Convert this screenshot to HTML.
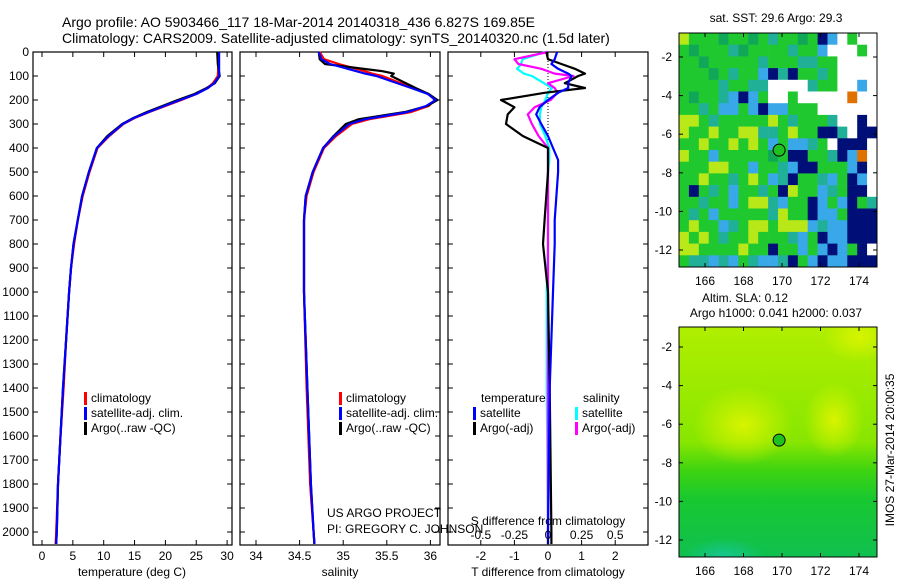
<!DOCTYPE html>
<html><head><meta charset="utf-8"><style>
body{margin:0;background:#fff}
svg{display:block;font-family:"Liberation Sans",sans-serif}
text{font-size:12px;fill:#000}
</style></head><body>
<svg id="c" width="900" height="580" viewBox="0 0 900 580">
<defs>
<linearGradient id="slaBase" x1="0" y1="0" x2="0" y2="1">
<stop offset="0" stop-color="#b0ee00"/><stop offset="0.3" stop-color="#98ea00"/><stop offset="0.5" stop-color="#88e600"/><stop offset="0.62" stop-color="#40d410"/><stop offset="0.75" stop-color="#18c830"/><stop offset="1" stop-color="#10c050"/></linearGradient>
<radialGradient id="blobY"><stop offset="0" stop-color="#d8f400"/><stop offset="1" stop-color="#d8f400" stop-opacity="0"/></radialGradient>
<radialGradient id="blobT"><stop offset="0" stop-color="#18c8a0"/><stop offset="1" stop-color="#18c8a0" stop-opacity="0"/></radialGradient>
<clipPath id="slaClip"><rect x="679" y="327" width="198" height="230"/></clipPath>
</defs>
<text x="62" y="27" style="font-size:14px">Argo profile: AO 5903466_117 18-Mar-2014 20140318_436 6.827S 169.85E</text>
<text x="62" y="43" style="font-size:14px">Climatology: CARS2009. Satellite-adjusted climatology: synTS_20140320.nc (1.5d later)</text>
<g id="g"></g>
</svg>
<script>
// ---- data ----
const depthT = [0,50,100,130,150,175,200,225,250,275,300,350,400,500,600,700,800,900,1000,1200,1400,1600,1800,2000,2050];
const tempArgo = [28.4,28.5,28.8,28.0,26.7,24.7,22.0,19.5,17.0,14.8,13.0,10.6,8.9,7.6,6.5,5.8,5.1,4.7,4.4,3.9,3.4,3.0,2.6,2.4,2.3];
const tempClim = [28.6,28.6,28.5,27.7,26.8,25.0,22.6,20.0,17.4,15.0,13.2,10.9,9.0,7.7,6.6,5.8,5.2,4.7,4.4,3.9,3.5,3.0,2.6,2.3,2.2];
const tempSat  = [28.7,28.7,28.7,27.9,26.9,25.0,22.4,19.8,17.3,14.9,13.1,10.8,8.9,7.6,6.5,5.8,5.1,4.7,4.4,3.9,3.4,3.0,2.6,2.4,2.3];
const depthS = [0,30,50,80,90,100,150,175,200,225,250,280,300,350,400,500,600,700,1000,1400,1800,2000,2050];
const salArgo = [34.72,34.73,34.79,35.45,35.58,35.55,35.83,35.98,36.08,35.96,35.71,35.18,35.03,34.89,34.77,34.65,34.57,34.55,34.55,34.59,34.63,34.66,34.67];
const salClim = [34.73,34.78,34.95,35.25,35.33,35.45,35.80,35.98,36.05,35.98,35.78,35.30,35.10,34.92,34.78,34.66,34.58,34.55,34.55,34.58,34.62,34.66,34.67];
const salSat  = [34.72,34.75,34.85,35.15,35.25,35.38,35.78,35.97,36.06,35.95,35.74,35.25,35.07,34.90,34.77,34.65,34.57,34.55,34.55,34.59,34.63,34.66,34.67];
const depthD = [0,30,50,70,90,100,130,150,170,200,230,260,300,350,400,450,500,600,700,800,1000,1400,2000,2050];
const dTArgo = [-0.05,0.0,0.4,0.8,1.1,0.9,0.5,1.1,-0.1,-1.4,-1.0,-1.2,-1.25,-0.75,0.0,0.0,0.0,-0.05,-0.1,-0.15,0.0,0.05,0.1,0.1];
const dTSat  = [0.27,0.2,0.1,0.3,0.6,0.7,0.6,0.6,0.3,0.0,-0.25,-0.35,-0.2,0.0,0.15,0.3,0.3,0.25,0.2,0.2,0.15,0.05,0.0,0.0];
const dSArgo = [0.0,-0.25,-0.22,-0.05,0.05,0.19,0.0,0.05,0.07,0.02,-0.1,-0.15,-0.12,-0.07,0.0,0.0,0.0,0.0,0.0,0.0,0.0,0.0,0.0,0.0];
const dSSat  = [-0.02,-0.19,-0.2,-0.23,-0.18,-0.12,-0.03,0.03,0.0,-0.02,-0.05,-0.06,-0.06,-0.02,0.01,0.01,0.0,0.0,0.0,0.0,-0.01,-0.01,0.0,0.0];
const depthTicks = [0,100,200,300,400,500,600,700,800,900,1000,1100,1200,1300,1400,1500,1600,1700,1800,1900,2000];
const tempTicks = [0,5,10,15,20,25,30];
const salTicks = [34,34.5,35,35.5,36];
const dTTicks = [-2,-1,0,1,2];
const dSTicks = [-0.5,-0.25,0,0.25,0.5];
const dSTickLabels = ["-0.5","-0.25","0","0.25","0.5"];
const latTicks = [-2,-4,-6,-8,-10,-12];
const lonTicks = [166,168,170,172,174];
const sstGrid = [
"ygggGggGgcggGgnbwgww",
"gGgggcGggggcggbwwwgw",
"ggGgggggcgggccggwwww",
"gggGgcggbncnggcgwwww",
"ggggcggccwwwwcggwwbw",
"gGggcbnbgwwgwwwwwoww",
"ggcgbbgbnbbgggwwwwww",
"yygcgggggygcgggcwwnw",
"yggyggyyccgyggnncwnn",
"ggyggygygbgbbcgwnnnw",
"yggbgggggGgnnggcnbow",
"gggyyggbggcbnngggbnw",
"ggyggcgygbcnggcbgnbw",
"gngcgbggcgnyggbcgnnw",
"ggcggbgyycbggnbgbngc",
"gcgbgggggcyggnbbgnnn",
"gyggbcgyygyyybcbbnnn",
"ygygcggygggcbgnbbnnn",
"yyggggyggnggbgbnbgnw",
"gccbcbgcbbcngbnbbnnn"];
const sstColors = {y:"#b8e818",g:"#20c830",G:"#10a858",c:"#20b098",b:"#38a8e8",n:"#000e78",w:"#ffffff",o:"#e07000"};
const floatLon = 169.85, floatLat = -6.827;

// ---- helpers ----
const NS="http://www.w3.org/2000/svg";
const G=document.getElementById('g');
function mk(tag,attrs,parent){const e=document.createElementNS(NS,tag);for(const k in attrs)e.setAttribute(k,attrs[k]);(parent||G).appendChild(e);return e;}
function txt(x,y,s,anchor,parent){const t=mk('text',{x:x,y:y,'text-anchor':anchor||'start'},parent);t.textContent=s;return t;}
const Y0=52,PY=0.24;
const yD=d=>Y0+d*PY;
const PB=545;
const xT=v=>42+v*6.17;
const xS=v=>256+(v-34)*87.2;
const xDT=v=>548+v*33.6;
const xDS=v=>548+v*134.4;

function panel(x0,x1,name){
  const r=mk('rect',{x:x0,y:Y0,width:x1-x0,height:PB-Y0,fill:'none',stroke:'#000','stroke-width':1.2});
  
  
}
function line(xs,ds,fx,color,name,w){
  const pts=xs.map((v,i)=>fx(v).toFixed(1)+','+yD(ds[i]).toFixed(1)).join(' ');
  const p=mk('polyline',{points:pts,fill:'none',stroke:color,'stroke-width':w||2.2,'stroke-linejoin':'round'});
  
  
}
function xticks(ticks,labels,fx,ly,name){
  ticks.forEach((t,i)=>{const x=fx(t);
    mk('line',{x1:x,x2:x,y1:PB,y2:PB-5,stroke:'#000'});
    mk('line',{x1:x,x2:x,y1:Y0,y2:Y0+5,stroke:'#000'});
    const e=txt(x,ly,labels[i],'middle');
    
    
  });
}
function yticks(x0,x1){depthTicks.forEach(d=>{const y=yD(d);mk('line',{x1:x0,x2:x0+5,y1:y,y2:y,stroke:'#000'});mk('line',{x1:x1,x2:x1-5,y1:y,y2:y,stroke:'#000'});});}
function legend(x,y,entries){entries.forEach((e,i)=>{
  mk('rect',{x:x,y:y+i*15-10,width:3,height:13,fill:e[1]});
  const t=txt(x+7,y+i*15,e[0]);
  
  
});}

// ---- panel 1 temperature ----
panel(33,232,'temperature-panel');
yticks(33,232);
depthTicks.forEach(d=>{const t=txt(29,yD(d)+4,String(d),'end');
  
  });
xticks(tempTicks,tempTicks.map(String),xT,560,'temp-tick-label');
line(tempClim,depthT,xT,'#ff0000','temp-climatology-line');
line(tempArgo,depthT,xT,'#000000','temp-argo-line');
line(tempSat,depthT,xT,'#0000ff','temp-satellite-line');
{const t=txt(132,576,'temperature (deg C)','middle');}
legend(84,402,[['climatology','#ff0000'],['satellite-adj. clim.','#0000ff'],['Argo(..raw -QC)','#000']]);

// ---- panel 2 salinity ----
panel(240,440,'salinity-panel');
yticks(240,440);
xticks(salTicks,["34","34.5","35","35.5","36"],xS,560,'salinity-tick-label');
line(salClim,depthS,xS,'#ff0000','salinity-climatology-line');
line(salArgo,depthS,xS,'#000000','salinity-argo-line');
line(salSat,depthS,xS,'#0000ff','salinity-satellite-line');
{const t=txt(340,576,'salinity','middle');}
legend(339,402,[['climatology','#ff0000'],['satellite-adj. clim.','#0000ff'],['Argo(..raw -QC)','#000']]);
{const t=txt(327,517,'US ARGO PROJECT');
 const u=txt(327,533,'PI: GREGORY C. JOHNSON');}

// ---- panel 3 differences ----
panel(448,648,'difference-panel');
yticks(448,648);
mk('line',{x1:548,x2:548,y1:Y0,y2:yD(420),stroke:'#000','stroke-dasharray':'1,2'});
line(dSSat,depthD,xDS,'#00ffff','s-diff-satellite-line');
line(dSArgo,depthD,xDS,'#ff00ff','s-diff-argo-line');
line(dTArgo,depthD,xDT,'#000000','t-diff-argo-line');
line(dTSat,depthD,xDT,'#0000ff','t-diff-satellite-line');
xticks(dTTicks,dTTicks.map(String),xDT,560,'t-diff-tick-label');
dSTicks.forEach((t,i)=>{const e=txt(xDS(t),539,dSTickLabels[i],'middle');});
{const t=txt(548,525,'S difference from climatology','middle');
 const u=txt(548,576,'T difference from climatology','middle');
 const a=txt(481,402,'temperature');
 const b=txt(583,402,'salinity');}
legend(473,417,[['satellite','#0000ff'],['Argo(-adj)','#000']]);
legend(575,417,[['satellite','#00ffff'],['Argo(-adj)','#ff00ff']]);

// ---- maps ----
const lonX=l=>705+(l-166)*19.25;
function mapFrame(top,bot,yMinus2,name,titleLines,labelY){
  const latY=l=>yMinus2+(-2-l)*19.3;
  return {latY,finish(){
    const r=mk('rect',{x:679,y:top,width:198,height:bot-top,fill:'none',stroke:'#000'});
    
    latTicks.forEach(l=>{const y=latY(l);mk('line',{x1:679,x2:683,y1:y,y2:y,stroke:'#000'});mk('line',{x1:877,x2:873,y1:y,y2:y,stroke:'#000'});
      const t=txt(672,y+4,String(l),'end');});
    lonTicks.forEach(l=>{const x=lonX(l);mk('line',{x1:x,x2:x,y1:bot,y2:bot-4,stroke:'#000'});mk('line',{x1:x,x2:x,y1:top,y2:top+4,stroke:'#000'});
      const t=txt(x,labelY,String(l),'middle');});
    const c=mk('circle',{cx:lonX(floatLon),cy:latY(floatLat),r:6,fill:'#20c020',stroke:'#000'});
    
    titleLines.forEach(s=>{const t=txt(s[1],s[2],s[0],'middle');});
  }};
}
// SST map
{const m=mapFrame(33,267,57,'sst-map',[['sat. SST: 29.6 Argo: 29.3',776,22]],285);
 const rows=sstGrid.length,cols=sstGrid[0].length,cw=198/cols,ch=234/rows;
 const gg=mk('g',{});
 sstGrid.forEach((row,r)=>{for(let c=0;c<cols;c++){const col=sstColors[row[c]]||'#20c830';
   mk('rect',{x:(679+c*cw).toFixed(2),y:(33+r*ch).toFixed(2),width:(cw+0.3).toFixed(2),height:(ch+0.3).toFixed(2),fill:col},gg);}});
 m.finish();}
// SLA map
{const m=mapFrame(327,557,347,'sla-map',[['Altim. SLA: 0.12',745,302],['Argo h1000: 0.041 h2000: 0.037',776,317]],575);
 const gg=mk('g',{'clip-path':'url(#slaClip)'});
 mk('rect',{x:679,y:327,width:198,height:230,fill:'url(#slaBase)'},gg);
 mk('ellipse',{cx:743,cy:425,rx:50,ry:40,fill:'url(#blobY)'},gg);
 mk('ellipse',{cx:834,cy:420,rx:30,ry:38,fill:'url(#blobY)'},gg);
 mk('ellipse',{cx:859,cy:337,rx:35,ry:25,fill:'url(#blobY)'},gg);
 mk('ellipse',{cx:724,cy:556,rx:40,ry:18,fill:'url(#blobT)','fill-opacity':0.8},gg);
 m.finish();}
{const t=mk('text',{x:894,y:450,'text-anchor':'middle',transform:'rotate(-90 894 450)'});t.textContent='IMOS 27-Mar-2014 20:00:35';
 }
</script>
</body></html>
